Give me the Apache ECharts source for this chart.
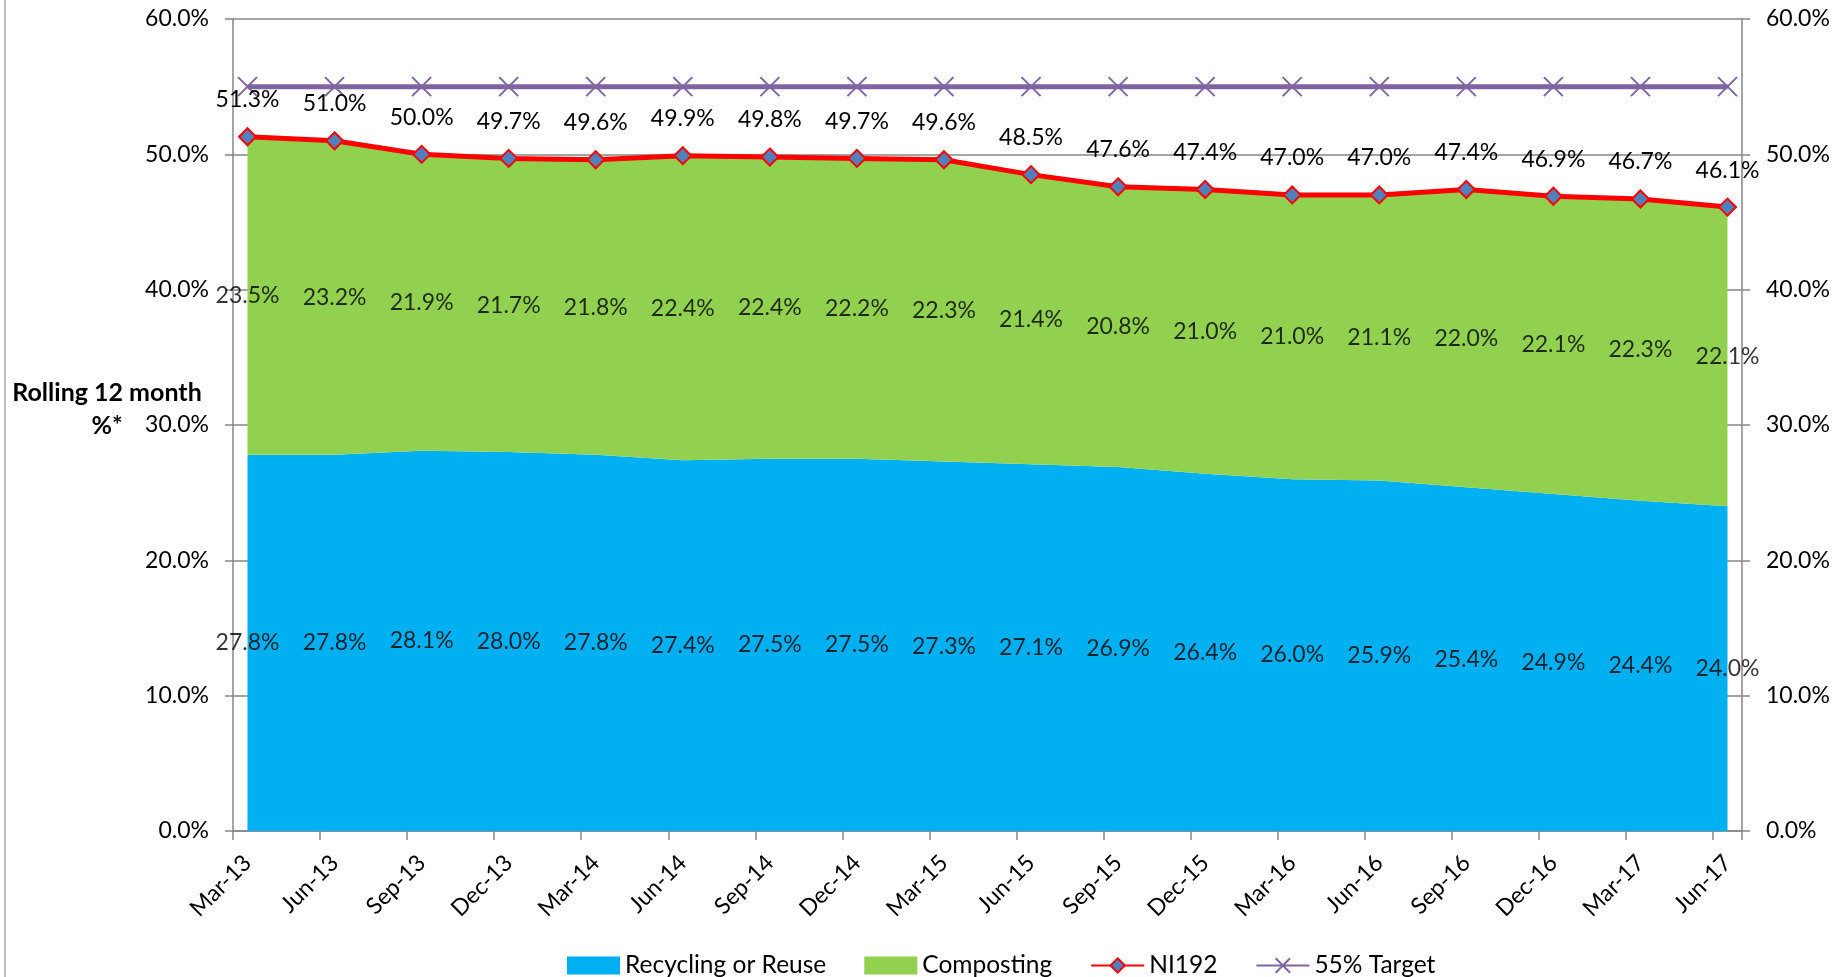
<!DOCTYPE html>
<html>
<head>
<meta charset="utf-8">
<title>Recycling, reuse and composting - rolling 12 month</title>
<script src="https://cdn.jsdelivr.net/npm/echarts@6/dist/echarts.min.js"></script>
<style>
  html, body { margin:0; padding:0; background:#fff; }
  #chart { width:1847px; height:977px; }
</style>
</head>
<body>
<div id="chart"></div>
<script>
// quarterly points (rolling 12 month %)
const quarters = ["Mar-13","Jun-13","Sep-13","Dec-13","Mar-14","Jun-14","Sep-14","Dec-14","Mar-15",
  "Jun-15","Sep-15","Dec-15","Mar-16","Jun-16","Sep-16","Dec-16","Mar-17","Jun-17"];
const recycling  = [27.8,27.8,28.1,28.0,27.8,27.4,27.5,27.5,27.3,27.1,26.9,26.4,26.0,25.9,25.4,24.9,24.4,24.0];
const composting = [23.5,23.2,21.9,21.7,21.8,22.4,22.4,22.2,22.3,21.4,20.8,21.0,21.0,21.1,22.0,22.1,22.3,22.1];
const ni192      = [51.3,51.0,50.0,49.7,49.6,49.9,49.8,49.7,49.6,48.5,47.6,47.4,47.0,47.0,47.4,46.9,46.7,46.1];
const target     = [55,55,55,55,55,55,55,55,55,55,55,55,55,55,55,55,55,55];
const yMin = 0, yMax = 60, yStep = 10;

// the axis runs in months (date axis), one tick per quarter, points sit mid-month
const STEP = 3;
const slotCount = STEP * (quarters.length - 1) + 1;
const slots = Array.from({length: slotCount}, (_, k) => k % STEP === 0 ? quarters[k / STEP] : quarters[Math.floor(k / STEP)] + "+" + (k % STEP));
const onQuarter = (i) => i % STEP === 0;
const pairs = (arr) => arr.map((v, i) => [i * STEP, v]);
const pct = (v) => v.toFixed(1) + "%";

const FONT = "Lato";
const FS = 23;

// label positions: middle of each stacked band
const recLabels = recycling.map((v, i) => [i * STEP, v / 2, v]);
const compLabels = composting.map((v, i) => [i * STEP, recycling[i] + v / 2, v]);

const chart = echarts.init(document.getElementById("chart"), null, { renderer: "canvas" });

const yAxisBase = {
  type: "value", min: yMin, max: yMax, interval: yStep,
  axisLine: { show: true, lineStyle: { color: "#868686", width: 1.5 } },
  axisTick: { show: true, inside: false, length: 8, lineStyle: { color: "#868686", width: 1.5 } },
  axisLabel: { formatter: (v) => pct(v), color: "#000", fontFamily: FONT, fontSize: FS, margin: 24 }
};

const option = {
  animation: false,
  backgroundColor: "#fff",
  textStyle: { fontFamily: FONT },
  grid: { left: 233, right: 105, top: 19, bottom: 146, containLabel: false },
  legend: {
    left: 562, top: 948, itemWidth: 53, itemHeight: 18, itemGap: 38,
    textStyle: { fontFamily: FONT, fontSize: 24.5, color: "#000" },
    data: [
      { name: "Recycling or Reuse", icon: "rect" },
      { name: "Composting", icon: "rect" },
      "NI192",
      "55% Target"
    ]
  },
  xAxis: {
    type: "category", data: slots, boundaryGap: true,
    axisLine: { show: true, lineStyle: { color: "#868686", width: 1.5 } },
    axisTick: { show: true, interval: onQuarter, length: 9, lineStyle: { color: "#868686", width: 1.5 } },
    axisLabel: { interval: onQuarter, rotate: 45, margin: 28, color: "#000", fontFamily: FONT, fontSize: FS },
    splitLine: { show: false }
  },
  yAxis: [
    Object.assign({}, yAxisBase, { position: "left", splitLine: { show: true, lineStyle: { color: "#868686", width: 1.5 } } }),
    Object.assign({}, yAxisBase, { position: "right", splitLine: { show: false } })
  ],
  graphic: [
    { type: "line", silent: true, shape: { x1: 5, y1: 0, x2: 5, y2: 977 }, style: { stroke: "#a6a6a6", lineWidth: 1.5 } },
    { type: "text", silent: true, x: 107, y: 409,
      style: { text: "Rolling 12 month\n%*", fill: "#000", fontFamily: FONT, fontSize: 25, fontWeight: "bold",
        align: "center", verticalAlign: "middle", lineHeight: 33 } }
  ],
  series: [
    {
      name: "Recycling or Reuse", type: "line", stack: "rate", data: pairs(recycling),
      showSymbol: false, symbol: "none", z: 1,
      lineStyle: { width: 0, color: "#00B0F0" }, itemStyle: { color: "#00B0F0" },
      areaStyle: { color: "#00B0F0", opacity: 1 }
    },
    {
      name: "Composting", type: "line", stack: "rate", data: pairs(composting),
      showSymbol: false, symbol: "none", z: 1,
      lineStyle: { width: 0, color: "#92D050" }, itemStyle: { color: "#92D050" },
      areaStyle: { color: "#92D050", opacity: 1 }
    },
    {
      name: "NI192", type: "line", data: pairs(ni192), z: 3,
      symbol: "diamond", symbolSize: 17,
      lineStyle: { color: "#FF0000", width: 5 },
      itemStyle: { color: "#4F81BD", borderColor: "#FF0000", borderWidth: 2 },
      label: { show: true, position: "top", distance: 16, formatter: (p) => pct(p.value[1]),
        color: "#000", fontFamily: FONT, fontSize: FS }
    },
    {
      name: "55% Target", type: "line", data: pairs(target), z: 2,
      symbol: "path://M0,0L20,20M20,0L0,20", symbolSize: [19, 19],
      lineStyle: { color: "#8064A2", width: 5 },
      itemStyle: { color: "#8064A2", borderColor: "#8064A2", borderWidth: 2 }
    },
    {
      type: "scatter", data: recLabels, symbolSize: 0, silent: true, z: 4,
      label: { show: true, position: "inside", formatter: (p) => pct(p.value[2]), color: "#000", fontFamily: FONT, fontSize: FS }
    },
    {
      type: "scatter", data: compLabels, symbolSize: 0, silent: true, z: 4,
      label: { show: true, position: "inside", formatter: (p) => pct(p.value[2]), color: "#000", fontFamily: FONT, fontSize: FS }
    }
  ]
};

chart.setOption(option);
window.addEventListener("resize", () => chart.resize());
</script>
</body>
</html>
